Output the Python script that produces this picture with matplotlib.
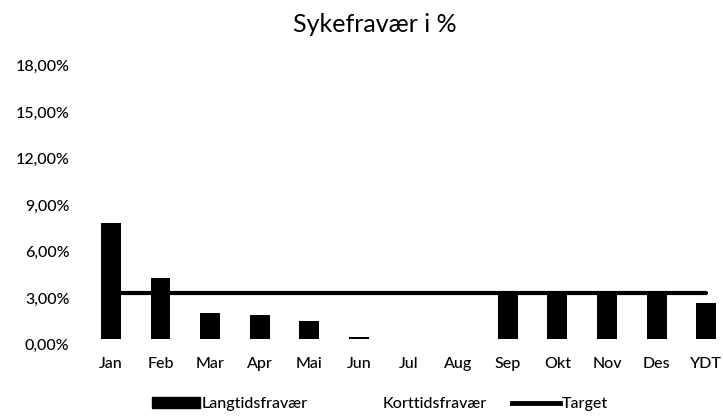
import matplotlib
matplotlib.use("Agg")
from matplotlib import pyplot as plt
from matplotlib.patches import Patch
from matplotlib.lines import Line2D
import matplotlib.transforms as mtransforms
import numpy as np

months = ["Jan", "Feb", "Mar", "Apr", "Mai", "Jun", "Jul", "Aug", "Sep", "Okt", "Nov", "Des", "YDT"]
langtid = [7.5, 3.95, 1.66, 1.55, 1.16, 0.15, 0, 0, 3.03, 3.03, 3.03, 3.0, 2.32]
korttid = [0, 0, 0, 0, 0, 0, 0, 0, 0, 0, 0, 0, 0]
target = [3.0] * 13
yTicks = [0, 3, 6, 9, 12, 15, 18]

plt.rcParams["font.family"] = ["Lato", "DejaVu Sans"]

fig = plt.figure(figsize=(7.23, 4.16), dpi=100)
ax = fig.add_axes([86 / 723, 1 - 339 / 416, (723 - 86) / 723, (339 - 60) / 416])

x = np.arange(len(months))
ax.plot(x, target, color="black", linewidth=3, solid_capstyle="round", zorder=2)
ax.bar(x, langtid, width=0.4, color="black", zorder=3)
ax.bar(x, korttid, width=0.4, color="white", zorder=3)

ax.set_xlim(-0.5, (723 - 111) / 49.6)
ax.set_ylim(0, 18)
ax.set_xticks(x)
ax.set_xticklabels(months, fontsize=11.5, fontweight="medium")
ax.set_yticks(yTicks)
ax.set_yticklabels([f"{v:.2f}%".replace(".", ",") for v in yTicks], fontsize=11.5, fontweight="medium")
ax.tick_params(axis="y", length=0, pad=12)
ax.tick_params(axis="x", length=0, pad=13)
offset = mtransforms.ScaledTranslation(0, -4 / 72, fig.dpi_scale_trans)
for lbl in ax.get_yticklabels():
    lbl.set_transform(lbl.get_transform() + offset)
for s in ax.spines.values():
    s.set_visible(False)

fig.text(375 / 723, 1 - 25 / 416, "Sykefravær i %", ha="center", va="center", fontsize=18)

handles = [
    Patch(facecolor="black", edgecolor="black"),
    Patch(facecolor="white", edgecolor="white"),
    Line2D([0], [0], color="black", linewidth=3.5),
]
fig.legend(
    handles,
    ["Langtidsfravær", "Korttidsfravær", "Target"],
    loc="center",
    bbox_to_anchor=(380 / 723, 1 - 404 / 416),
    ncol=3,
    frameon=False,
    prop={"size": 11.5, "weight": "medium"},
    handlelength=3.0,
    handleheight=0.75,
    handletextpad=0.1,
    columnspacing=1.6,
)

fig.savefig("out.png", dpi=100)
